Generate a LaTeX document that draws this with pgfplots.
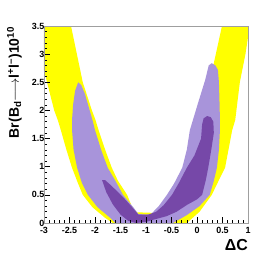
\documentclass[border=0pt]{standalone}
\usepackage{pgfplots}
\pgfplotsset{compat=1.18}
\usepackage{fontspec}
\setmainfont{Liberation Sans}
\definecolor{ylw}{RGB}{255,255,0}
\definecolor{lpur}{RGB}{168,148,218}
\definecolor{dpur}{RGB}{118,72,168}
\begin{document}
\begin{tikzpicture}
\useasboundingbox (-44bp,-41bp) rectangle (232bp,223bp);
\begin{axis}[
  at={(0,0)}, anchor=south west,
  scale only axis, width=204bp, height=197bp,
  xmin=-3, xmax=1, ymin=0, ymax=3.5,
  xtick={-3,-2.5,-2,-1.5,-1,-0.5,0,0.5,1},
  ytick={0,0.5,1,1.5,2,2.5,3,3.5},
  minor x tick num=4, minor y tick num=4,
  tick align=inside, xtick pos=lower, ytick pos=left,
  major tick length=6bp, minor tick length=3bp,
  axis line style={draw=gray!75, line width=0.6pt},
  tick style={black, line width=0.5pt},
  ticklabel style={font=\bfseries\fontsize{9}{10}\selectfont, inner sep=1bp},
  xticklabel style={yshift=-3.5bp},
  /pgf/number format/assume math mode=true,
  yticklabel shift=-1.5bp,
  axis on top,
  xlabel={\bfseries\fontsize{16}{18}\selectfont ΔC},
  xlabel style={at={(axis description cs:1,-0.11)}, anchor=east, inner sep=0pt},
  ylabel={\bfseries\fontsize{14}{16}\selectfont Br(B\textsubscript{d}$\longrightarrow$l\textsuperscript{+}l\textsuperscript{--})10\textsuperscript{10}},
  ylabel style={at={(axis description cs:-0.145,0.713)}, anchor=center, inner sep=0pt},
]
% yellow band
\addplot[fill=ylw, draw=none] coordinates {
(-3.25,3.6) (-2.94,2.5) (-2.80,2.0) (-2.73,1.83) (-2.67,1.65) (-2.56,1.3) (-2.45,0.98) (-2.34,0.72) (-2.24,0.5) (-2.05,0.28) (-1.80,0.09) (-1.65,0) (-1.6,-0.1) (-0.3,-0.1) (-0.2,0) (0.05,0.2) (0.29,0.5) (0.45,0.8) (0.55,0.98) (0.69,1.65) (0.75,1.83) (0.84,2.5) (0.95,3.0) (1.05,3.6)
(0.52,3.6) (0.49,3.5) (0.33,2.84) (0.2,2.2) (0.05,1.5) (-0.1,1.0) (-0.3,0.6) (-0.6,0.25) (-0.85,0.18) (-1.18,0.19) (-1.28,0.3) (-1.37,0.5) (-1.55,0.75) (-1.67,0.98) (-1.80,1.3) (-1.93,1.65) (-1.99,1.83) (-2.06,2.0) (-2.24,2.5) (-2.47,3.5) (-2.5,3.6)
} -- cycle;
% light purple
\addplot[fill=lpur, draw=none] coordinates {
(-2.33,2.50) (-2.39,2.35) (-2.43,2.1) (-2.45,1.83) (-2.45,1.65) (-2.42,1.3) (-2.35,0.98) (-2.26,0.72) (-2.14,0.5) (-1.95,0.28) (-1.7,0.09) (-1.6,0) (-1.6,-0.1) (-0.47,-0.1) (-0.47,0) (-0.2,0.14) (0.05,0.3) (0.25,0.5) (0.33,0.75) (0.39,0.98) (0.43,1.3) (0.45,1.65) (0.45,1.83) (0.44,2.2) (0.43,2.5) (0.41,2.72) (0.36,2.80) (0.29,2.84) (0.23,2.80) (0.16,2.54) (0.02,2.13) (-0.14,1.65) (-0.2,1.3) (-0.29,0.98) (-0.45,0.7) (-0.59,0.5) (-0.75,0.3) (-0.9,0.16) (-1.0,0.15) (-1.15,0.16) (-1.25,0.28) (-1.45,0.5) (-1.6,0.75) (-1.75,0.98) (-1.88,1.3) (-2.0,1.65) (-2.05,1.83) (-2.12,2.05) (-2.2,2.3) (-2.27,2.45)
} -- cycle;
% dark purple
\addplot[fill=dpur, draw=none] coordinates {
(-1.86,0.76) (-1.78,0.55) (-1.65,0.33) (-1.5,0.15) (-1.35,0.04) (-1.2,0.0) (-1.0,0.02) (-0.85,0.06) (-0.6,0.12) (-0.4,0.2) (-0.2,0.32) (0.0,0.42) (0.1,0.5) (0.17,0.75) (0.22,0.98) (0.28,1.3) (0.33,1.6) (0.32,1.8) (0.27,1.88) (0.2,1.9) (0.13,1.86) (0.1,1.75) (0.08,1.5) (-0.05,1.2) (-0.2,0.98) (-0.35,0.72) (-0.49,0.5) (-0.65,0.32) (-0.8,0.2) (-0.95,0.15) (-1.15,0.15) (-1.27,0.28) (-1.42,0.43) (-1.55,0.55) (-1.7,0.68) (-1.8,0.76)
} -- cycle;
\end{axis}
\end{tikzpicture}
\end{document}
